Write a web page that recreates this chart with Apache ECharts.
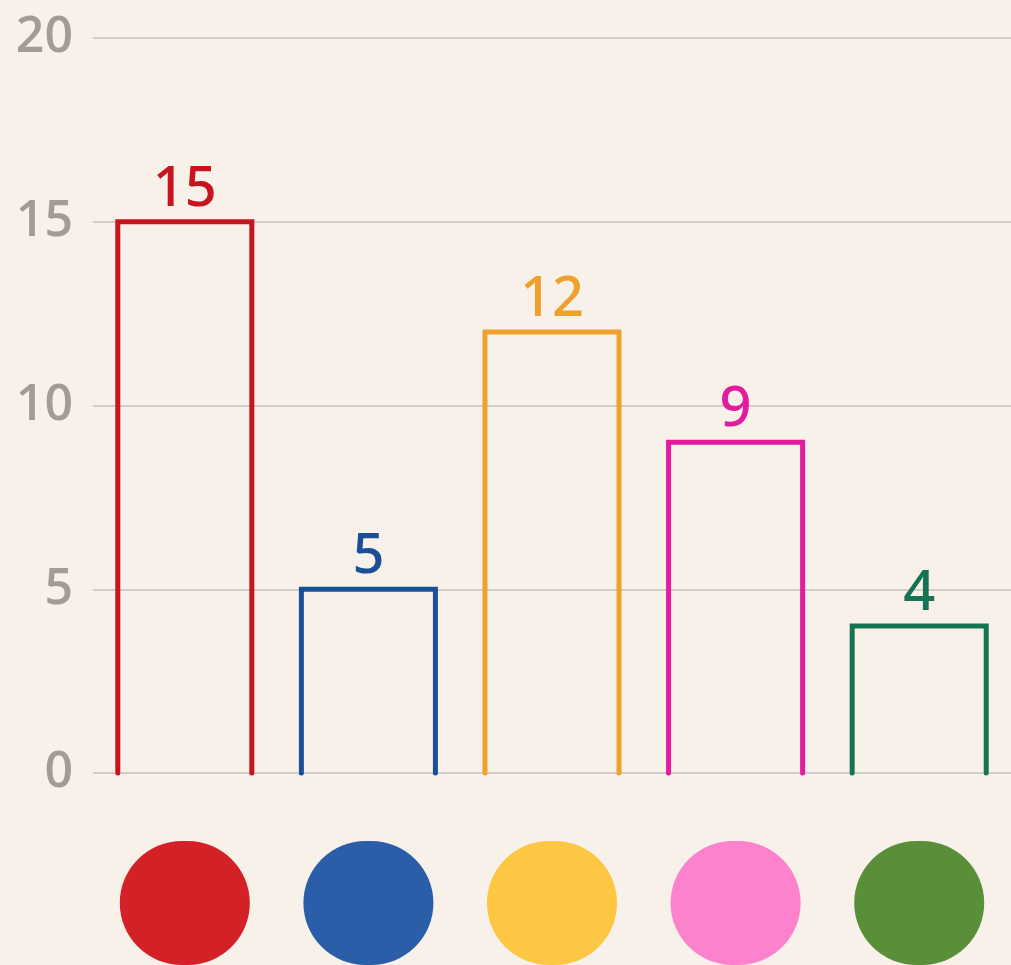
<!DOCTYPE html>
<html>
<head>
<meta charset="utf-8">
<script src="https://cdn.jsdelivr.net/npm/echarts@6/dist/echarts.min.js"></script>
<style>
  html, body { margin: 0; padding: 0; background: #f8f1ea; }
  #chart { width: 1011px; height: 965px; }
</style>
</head>
<body>
<div id="chart"></div>
<script>
// Categories, values and axis ticks
const categories = ['Red', 'Blue', 'Yellow', 'Pink', 'Green'];
const values = [15, 5, 12, 9, 4];
const yTicks = [0, 5, 10, 15, 20];

// Styling: outline colours of the bars/labels and fill colours of the swatches
const strokeColors = ['#c8141e', '#1a4f97', '#eea12e', '#e31b9f', '#137352'];
const swatchColors = ['#d42027', '#2a5ea8', '#fdc643', '#fd82cd', '#5a8f3a'];

const chart = echarts.init(document.getElementById('chart'), null, { renderer: 'canvas' });

// Round colour swatches under each category
const rich = {};
categories.forEach((c, i) => {
  rich['s' + i] = {
    width: 130,
    height: 124,
    backgroundColor: swatchColors[i],
    borderRadius: 62
  };
});

chart.setOption({
  backgroundColor: '#f8f1ea',
  animation: false,
  grid: { left: 93, right: 0, top: 38, bottom: 191, containLabel: false },
  xAxis: {
    type: 'category',
    data: categories,
    axisLine: { show: false },
    axisTick: { show: false },
    axisLabel: {
      interval: 0,
      margin: 68,
      formatter: (v, i) => '{s' + i + '| }',
      rich: rich
    }
  },
  yAxis: {
    type: 'value',
    min: yTicks[0],
    max: yTicks[yTicks.length - 1],
    interval: 5,
    axisLine: { show: false },
    axisTick: { show: false },
    axisLabel: {
      margin: 20,
      color: '#a29c97',
      fontSize: 50,
      fontWeight: 600,
      fontFamily: 'Open Sans',
      padding: [10, 0, 0, 0]
    },
    splitLine: { lineStyle: { color: '#d3cdc7', width: 2 } }
  },
  series: [{
    type: 'custom',
    data: values.map((v, i) => [i, v]),
    renderItem: (params, api) => {
      const i = api.value(0);
      const v = api.value(1);
      const top = api.coord([i, v]);
      const base = api.coord([i, 0]);
      const w = api.size([1, 0])[0] * 0.73;
      const x0 = top[0] - w / 2;
      const x1 = top[0] + w / 2;
      const color = strokeColors[params.dataIndex];
      return {
        type: 'group',
        children: [
          {
            type: 'polyline',
            shape: { points: [[x0, base[1]], [x0, top[1]], [x1, top[1]], [x1, base[1]]] },
            style: { stroke: color, lineWidth: 5, fill: null, lineJoin: 'miter', lineCap: 'round' }
          },
          {
            type: 'text',
            x: top[0],
            y: top[1] - 4,
            style: {
              text: String(v),
              fill: color,
              font: '500 56px "Noto Sans"',
              align: 'center',
              verticalAlign: 'bottom'
            }
          }
        ]
      };
    }
  }]
});
</script>
</body>
</html>
